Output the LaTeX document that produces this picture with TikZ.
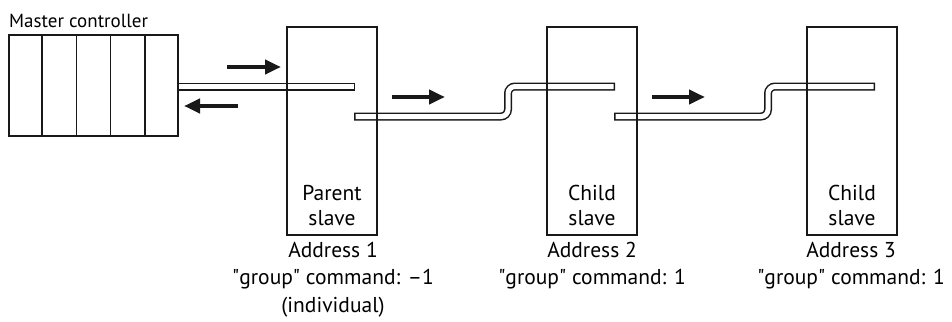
\documentclass[tikz,border=0pt]{standalone}
\usepackage{fontspec}
\setmainfont{PT Sans}
\usetikzlibrary{arrows.meta,calc}
\begin{document}
\begin{tikzpicture}[x=1pt,y=-1pt,
  mlbl/.style={font=\fontsize{19}{25}\selectfont, inner sep=0pt},
  lbl/.style={font=\fontsize{21.5}{25}\selectfont, inner sep=0pt, align=center},
  addr/.style={font=\fontsize{21.5}{27.5}\selectfont, inner sep=0pt, align=center},
  boxline/.style={draw=black!90, line width=1.8pt},
  slavebox/.style={boxline, minimum width=90pt, minimum height=208pt, inner sep=0pt},
  flow/.style={line width=4.6pt, -{Triangle[length=16pt,width=14pt]}, draw=black!90},
  cableouter/.style={line width=8pt, draw=black!90, rounded corners=7pt},
  cableinner/.style={line width=5pt, draw=white, rounded corners=7pt}]
\useasboundingbox (0,0) rectangle (952,321);

% cables (drawn below the boxes)
\coordinate (c1a) at (178,86.5);
\coordinate (c1b) at (355,86.5);
\draw[cableouter] (c1a) -- (c1b);
\draw[cableinner] (c1a) -- ([xshift=-1.5pt]c1b);

\coordinate (c2a) at (354,116.5);
\coordinate (c2m) at (508,101.5);
\coordinate (c2b) at (615,86.5);
\draw[cableouter] (c2a) -- (c2a -| c2m) -- (c2b -| c2m) -- (c2b);
\draw[cableinner] ([xshift=1.5pt]c2a) -- (c2a -| c2m) -- (c2b -| c2m) -- ([xshift=-1.5pt]c2b);

\coordinate (c3a) at (614,116.5);
\coordinate (c3m) at (768,101.5);
\coordinate (c3b) at (875,86.5);
\draw[cableouter] (c3a) -- (c3a -| c3m) -- (c3b -| c3m) -- (c3b);
\draw[cableinner] ([xshift=1.5pt]c3a) -- (c3a -| c3m) -- (c3b -| c3m) -- ([xshift=-1.5pt]c3b);

% master controller
\node[boxline, minimum width=169pt, minimum height=101pt, inner sep=0pt] (master) at (93.5,85.5) {};
\foreach \i in {1,2,3,4}
  \draw[boxline] ($(master.north west)!\i/5!(master.north east)$) -- ($(master.south west)!\i/5!(master.south east)$);
\node[mlbl, anchor=base west] (mlabel) at (9,28) {Master controller};

% slaves
\node[slavebox] (s1) at (332,131) {};
\node[slavebox] (s2) at (592,131) {};
\node[slavebox] (s3) at (852,131) {};

% multi-line nodes: base anchor = baseline of last line
\node[lbl, anchor=base] (t1) at (332,225) {Parent\\slave};
\node[lbl, anchor=base] (t2) at (592,225) {Child\\slave};
\node[lbl, anchor=base] (t3) at (852,225) {Child\\slave};

\node[addr, anchor=base] (a1) at (333,312) {Address 1\\\textquotedbl group\textquotedbl{} command: –1\\(individual)};
\node[addr, anchor=base] (a2) at (592,284.5) {Address 2\\\textquotedbl group\textquotedbl{} command: 1};
\node[addr, anchor=base] (a3) at (851,284.5) {Address 3\\\textquotedbl group\textquotedbl{} command: 1};

% flow arrows
\coordinate (f1a) at (227,67);  \coordinate (f1b) at (281,67);
\coordinate (f2a) at (238,106); \coordinate (f2b) at (184,106);
\coordinate (f3a) at (392,97);  \coordinate (f3b) at (445,97);
\coordinate (f4a) at (652,97);  \coordinate (f4b) at (705,97);
\draw[flow] (f1a) -- (f1b);
\draw[flow] (f2a) -- (f2b);
\draw[flow] (f3a) -- (f3b);
\draw[flow] (f4a) -- (f4b);
\end{tikzpicture}
\end{document}
